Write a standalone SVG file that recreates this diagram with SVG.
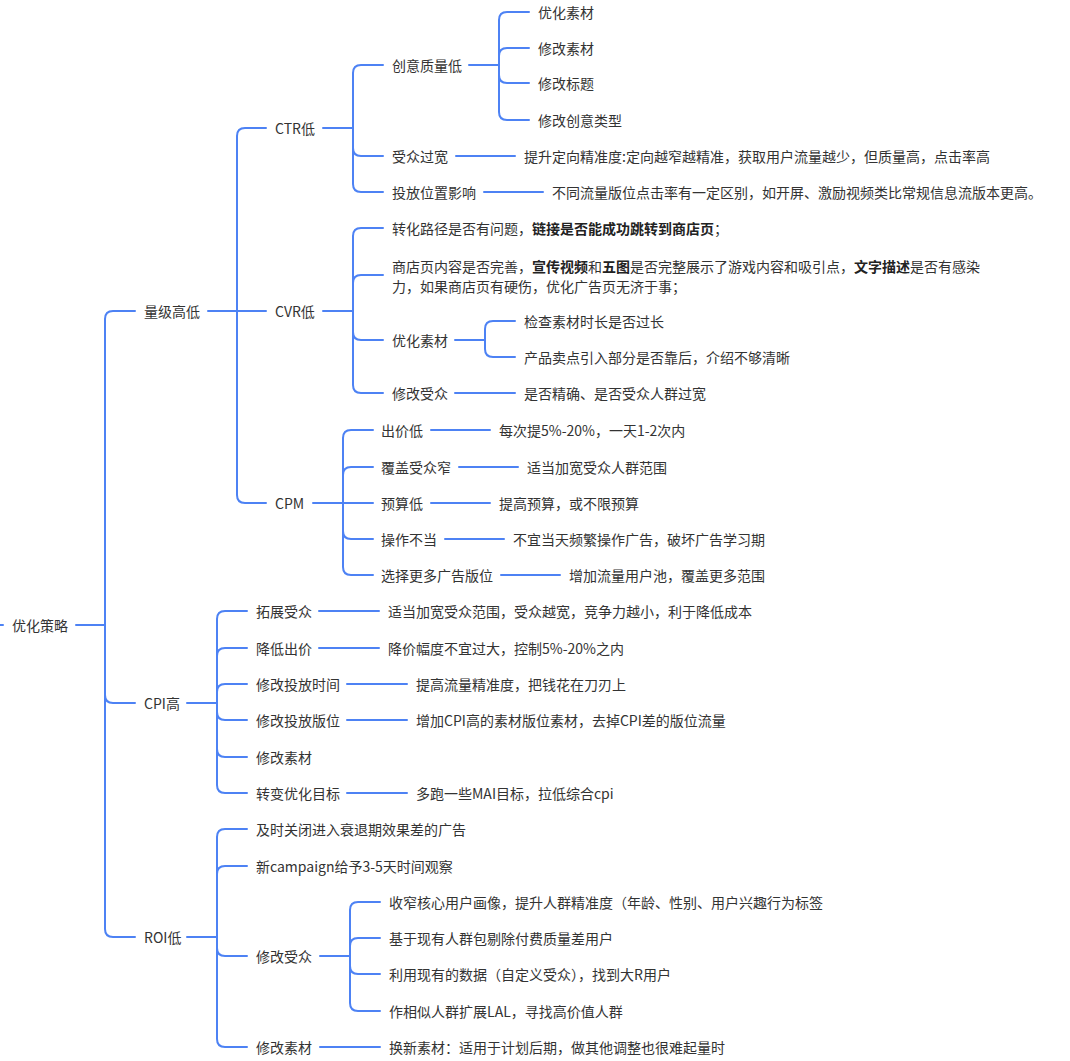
<svg xmlns="http://www.w3.org/2000/svg" width="1070" height="1061" viewBox="0 0 1070 1061">
<style>
text{font-family:"Noto Sans CJK SC","Noto Sans",sans-serif;font-size:14px;fill:#333333;dominant-baseline:central}
.b{font-weight:bold;fill:#222222}
#connectors path{fill:none;stroke:#4d82f4;stroke-width:2;stroke-linecap:round}
</style>
<rect width="1070" height="1061" fill="#ffffff"/>
<g id="connectors">
<path d="M0 625 H3"/>
<path d="M76 625 H105"/>
<path d="M105 625 V319 Q105 311 113 311 H135"/>
<path d="M105 625 V695 Q105 703 113 703 H135"/>
<path d="M105 625 V929 Q105 937 113 937 H135"/>
<path d="M208 311 H237"/>
<path d="M237 311 V136 Q237 128 245 128 H266"/>
<path d="M237 311 H266"/>
<path d="M237 311 V495 Q237 503 245 503 H266"/>
<path d="M323 128 H353"/>
<path d="M353 128 V73 Q353 65 361 65 H383"/>
<path d="M353 128 V148 Q353 156 361 156 H383"/>
<path d="M353 128 V184 Q353 192 361 192 H383"/>
<path d="M469 65 H499"/>
<path d="M499 65 V20 Q499 12 507 12 H529"/>
<path d="M499 65 V56 Q499 48 507 48 H529"/>
<path d="M499 65 V75 Q499 83 507 83 H529"/>
<path d="M499 65 V112 Q499 120 507 120 H529"/>
<path d="M456 156 H515"/>
<path d="M484 192 H543"/>
<path d="M323 311 H353"/>
<path d="M353 311 V236 Q353 228 361 228 H383"/>
<path d="M353 311 V283 Q353 275 361 275 H383"/>
<path d="M353 311 V332 Q353 340 361 340 H383"/>
<path d="M353 311 V385 Q353 393 361 393 H383"/>
<path d="M455 340 H485"/>
<path d="M485 340 V329 Q485 321 493 321 H515"/>
<path d="M485 340 V349 Q485 357 493 357 H515"/>
<path d="M455 393 H515"/>
<path d="M313 503 H343"/>
<path d="M343 503 V438 Q343 430 351 430 H373"/>
<path d="M343 503 V475 Q343 467 351 467 H373"/>
<path d="M343 503 H373"/>
<path d="M343 503 V531 Q343 539 351 539 H373"/>
<path d="M343 503 V567 Q343 575 351 575 H373"/>
<path d="M431 430 H490"/>
<path d="M459 467 H518"/>
<path d="M431 503 H490"/>
<path d="M445 539 H504"/>
<path d="M501 575 H560"/>
<path d="M187 703 H217"/>
<path d="M217 703 V619 Q217 611 225 611 H247"/>
<path d="M217 703 V656 Q217 648 225 648 H247"/>
<path d="M217 703 V692 Q217 684 225 684 H247"/>
<path d="M217 703 V712 Q217 720 225 720 H247"/>
<path d="M217 703 V749 Q217 757 225 757 H247"/>
<path d="M217 703 V785 Q217 793 225 793 H247"/>
<path d="M319 611 H379"/>
<path d="M319 648 H379"/>
<path d="M347 684 H407"/>
<path d="M347 720 H407"/>
<path d="M347 793 H407"/>
<path d="M187 937 H217"/>
<path d="M217 937 V837 Q217 829 225 829 H247"/>
<path d="M217 937 V874 Q217 866 225 866 H247"/>
<path d="M217 937 V948 Q217 956 225 956 H247"/>
<path d="M217 937 V1039 Q217 1047 225 1047 H247"/>
<path d="M320 956 H350"/>
<path d="M350 956 V910 Q350 902 358 902 H380"/>
<path d="M350 956 V946 Q350 938 358 938 H380"/>
<path d="M350 956 V966 Q350 974 358 974 H380"/>
<path d="M350 956 V1003 Q350 1011 358 1011 H380"/>
<path d="M320 1047 H380"/>
</g>
<g id="n-root"><text x="12" y="625">优化策略</text></g>
<g id="n-liangji"><text x="144" y="311">量级高低</text></g>
<g id="n-ctr"><text x="275" y="128">CTR低</text></g>
<g id="n-chuangyi"><text x="392" y="65">创意质量低</text></g>
<g id="n-cy1"><text x="538" y="12">优化素材</text></g>
<g id="n-cy2"><text x="538" y="48">修改素材</text></g>
<g id="n-cy3"><text x="538" y="83">修改标题</text></g>
<g id="n-cy4"><text x="538" y="120">修改创意类型</text></g>
<g id="n-shouzhong"><text x="392" y="156">受众过宽</text></g>
<g id="n-shouzhong-l"><text x="524" y="156">提升定向精准度:定向越窄越精准，获取用户流量越少，但质量高，点击率高</text></g>
<g id="n-weizhi"><text x="392" y="192">投放位置影响</text></g>
<g id="n-weizhi-l"><text x="552" y="192">不同流量版位点击率有一定区别，如开屏、激励视频类比常规信息流版本更高。</text></g>
<g id="n-cvr"><text x="275" y="311">CVR低</text></g>
<g id="n-cvr1"><text x="392" y="228">转化路径是否有问题，<tspan class="b">链接是否能成功跳转到商店页</tspan>；</text></g>
<g id="n-cvr2"><text x="392" y="266">商店页内容是否完善，<tspan class="b">宣传视频</tspan>和<tspan class="b">五图</tspan>是否完整展示了游戏内容和吸引点，<tspan class="b">文字描述</tspan>是否有感染</text><text x="392" y="286">力，如果商店页有硬伤，优化广告页无济于事；</text></g>
<g id="n-cvr3"><text x="392" y="340">优化素材</text></g>
<g id="n-cvr3a"><text x="524" y="321">检查素材时长是否过长</text></g>
<g id="n-cvr3b"><text x="524" y="357">产品卖点引入部分是否靠后，介绍不够清晰</text></g>
<g id="n-cvr4"><text x="392" y="393">修改受众</text></g>
<g id="n-cvr4a"><text x="524" y="393">是否精确、是否受众人群过宽</text></g>
<g id="n-cpm"><text x="275" y="503">CPM</text></g>
<g id="n-cpm1"><text x="381" y="430">出价低</text></g>
<g id="n-cpm1a"><text x="499" y="430">每次提5%-20%，一天1-2次内</text></g>
<g id="n-cpm2"><text x="381" y="467">覆盖受众窄</text></g>
<g id="n-cpm2a"><text x="527" y="467">适当加宽受众人群范围</text></g>
<g id="n-cpm3"><text x="381" y="503">预算低</text></g>
<g id="n-cpm3a"><text x="499" y="503">提高预算，或不限预算</text></g>
<g id="n-cpm4"><text x="381" y="539">操作不当</text></g>
<g id="n-cpm4a"><text x="513" y="539">不宜当天频繁操作广告，破坏广告学习期</text></g>
<g id="n-cpm5"><text x="381" y="575">选择更多广告版位</text></g>
<g id="n-cpm5a"><text x="569" y="575">增加流量用户池，覆盖更多范围</text></g>
<g id="n-cpi"><text x="144" y="703">CPI高</text></g>
<g id="n-cpi1"><text x="256" y="611">拓展受众</text></g>
<g id="n-cpi1a"><text x="388" y="611">适当加宽受众范围，受众越宽，竞争力越小，利于降低成本</text></g>
<g id="n-cpi2"><text x="256" y="648">降低出价</text></g>
<g id="n-cpi2a"><text x="388" y="648">降价幅度不宜过大，控制5%-20%之内</text></g>
<g id="n-cpi3"><text x="256" y="684">修改投放时间</text></g>
<g id="n-cpi3a"><text x="416" y="684">提高流量精准度，把钱花在刀刃上</text></g>
<g id="n-cpi4"><text x="256" y="720">修改投放版位</text></g>
<g id="n-cpi4a"><text x="416" y="720">增加CPI高的素材版位素材，去掉CPI差的版位流量</text></g>
<g id="n-cpi5"><text x="256" y="757">修改素材</text></g>
<g id="n-cpi6"><text x="256" y="793">转变优化目标</text></g>
<g id="n-cpi6a"><text x="416" y="793">多跑一些MAI目标，拉低综合cpi</text></g>
<g id="n-roi"><text x="144" y="937">ROI低</text></g>
<g id="n-roi1"><text x="256" y="829">及时关闭进入衰退期效果差的广告</text></g>
<g id="n-roi2"><text x="256" y="866">新campaign给予3-5天时间观察</text></g>
<g id="n-roi3"><text x="256" y="956">修改受众</text></g>
<g id="n-roi3a"><text x="389" y="902">收窄核心用户画像，提升人群精准度（年龄、性别、用户兴趣行为标签</text></g>
<g id="n-roi3b"><text x="389" y="938">基于现有人群包剔除付费质量差用户</text></g>
<g id="n-roi3c"><text x="389" y="974">利用现有的数据（自定义受众），找到大R用户</text></g>
<g id="n-roi3d"><text x="389" y="1011">作相似人群扩展LAL，寻找高价值人群</text></g>
<g id="n-roi4"><text x="256" y="1047">修改素材</text></g>
<g id="n-roi4a"><text x="389" y="1047">换新素材：适用于计划后期，做其他调整也很难起量时</text></g>
</svg>
